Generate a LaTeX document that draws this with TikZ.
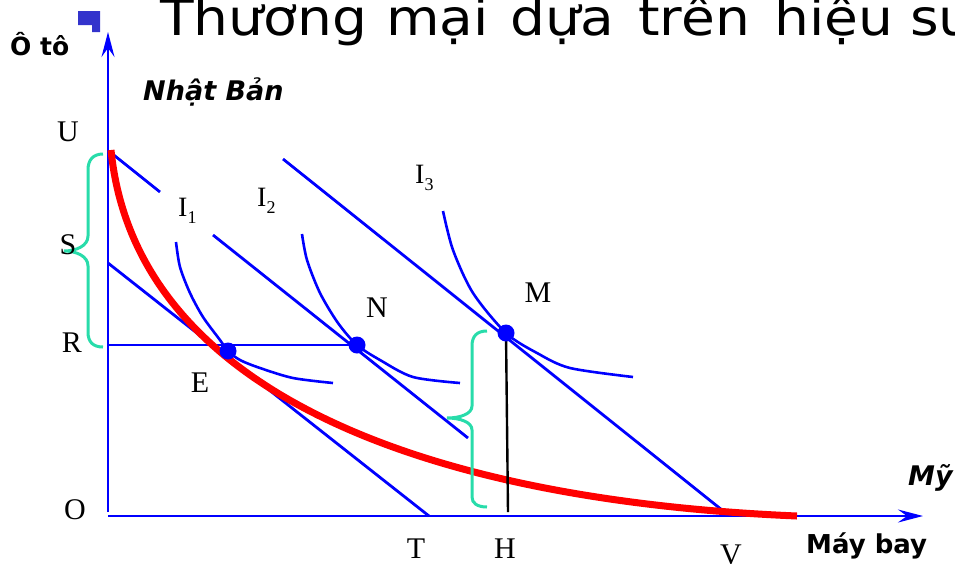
\documentclass[tikz,border=0pt]{standalone}
\usepackage{fontspec}
\setmainfont{Liberation Serif}
\newfontfamily\sansf{DejaVu Sans}
\usetikzlibrary{arrows.meta}
\definecolor{pblue}{RGB}{0,0,255}
\definecolor{pred}{RGB}{255,0,0}
\definecolor{pgreen}{RGB}{40,220,170}
\definecolor{bulletc}{RGB}{51,51,204}
\newcommand{\titleword}[1]{\scalebox{1.1}[1]{#1}}
\begin{document}
\begin{tikzpicture}[x=1pt,y=-1pt,
  axis/.style={pblue, line width=2.6pt, -{Stealth[length=25pt,width=13pt,inset=9pt]}},
  bline/.style={pblue, line width=2.8pt},
  icurve/.style={pblue, line width=2.6pt},
  ppf/.style={pred, line width=7pt},
  bracel/.style={pgreen, line width=3pt},
  ptdot/.style={circle, fill=pblue, inner sep=0pt, minimum size=17pt},
  lbl/.style={font=\fontsize{30}{30}\selectfont, inner sep=0pt},
  ilbl/.style={font=\fontsize{28}{28}\selectfont, inner sep=0pt, anchor=base west},
  tword/.style={anchor=base west, inner sep=0pt, font=\sansf\fontsize{50}{50}\selectfont},
  blbl/.style={font=\sansf\bfseries\fontsize{26}{26}\selectfont, inner sep=0pt, anchor=base west},
  bilbl/.style={font=\sansf\bfseries\itshape\fontsize{27}{27}\selectfont, inner sep=0pt, anchor=base west}]
\useasboundingbox (0,0) rectangle (955,563);
% title
\node[tword] (tw1) at (160,35) {\titleword{Thương}};
\node[tword] (tw2) at (386,35) {\titleword{mại}};
\node[tword] (tw3) at (510,35) {\titleword{dựa}};
\node[tword] (tw4) at (638,35) {\titleword{trên}};
\node[tword] (tw5) at (774,35) {\titleword{hiệu}};
\node[tword] (tw6) at (910,35) {\titleword{suất}};
\fill[bulletc] (78,11) -- (100,11) -- (100,32) -- (92,32) -- (92,25) -- (78,25) -- cycle;
% axes
\coordinate (yb) at (108,512);
\coordinate (yt) at (108,32);
\coordinate (xb) at (108,516);
\coordinate (xt) at (923,516);
\draw[axis] (yb) -- (yt);
\draw[axis] (xb) -- (xt);
% points
\coordinate (pE) at (228,351);
\coordinate (pN) at (357,345);
\coordinate (pM) at (506,333);
% budget lines
\coordinate (l1a) at (108,263);
\coordinate (l1b) at (429,516);
\draw[bline] (l1a) -- (l1b);
\coordinate (l2a) at (110,152);
\coordinate (l2b) at (160,192);
\coordinate (l2c) at (213,235);
\coordinate (l2d) at (468,438);
\draw[bline] (l2a) -- (l2b);
\draw[bline] (l2c) -- (l2d);
\coordinate (l3a) at (283,159);
\coordinate (l3b) at (727,514);
\draw[bline] (l3a) -- (l3b);
\coordinate (rl) at (108,345);
\draw[bline] (rl) -- (pN);
% indifference curves
\draw[icurve] plot[smooth] coordinates {(176,242) (180,267) (190,293) (203,317) (220,340) (228,351) (240,360) (260,368) (293,378) (333,383)};
\draw[icurve] plot[smooth] coordinates {(302,234) (307,260) (320,293) (338,323) (357,345) (380,360) (413,377) (460,383)};
\draw[icurve] plot[smooth] coordinates {(443,211) (453,250) (473,293) (506,333) (537,353) (570,368) (633,377)};
% PPF
\coordinate (ppa) at (111,150);
\coordinate (ppb) at (797,516);
\draw[ppf] (ppa) .. controls (135,390) and (420,500) .. (ppb);
% vertical at H
\coordinate (hb) at (508,512);
\draw[black, line width=2.4pt] (pM) -- (hb);
% braces
\draw[bracel] (103,154) .. controls (93,154) and (88,160) .. (88,170) -- (88,236) .. controls (88,246) and (76,251) .. (64,251) .. controls (76,251) and (88,256) .. (88,266) -- (88,332) .. controls (88,342) and (93,347) .. (103,347);
\draw[bracel] (487,331) .. controls (477,331) and (472,336) .. (472,346) -- (472,406) .. controls (472,414) and (460,418) .. (447,418) .. controls (460,418) and (472,422) .. (472,430) -- (472,497) .. controls (472,503) and (477,507) .. (487,507);
% dots
\node[ptdot] (dE) at (pE) {};
\node[ptdot] (dN) at (pN) {};
\node[ptdot] (dM) at (pM) {};
% labels
\node[lbl] (lU) at (68,132) {U};
\node[lbl] (lS) at (68,245) {S};
\node[lbl] (lR) at (72,343) {R};
\node[lbl] (lO) at (75,510) {O};
\node[lbl] (lE) at (200,383) {E};
\node[lbl] (lN) at (377,308) {N};
\node[lbl] (lM) at (538,293) {M};
\node[lbl] (lT) at (416,549) {T};
\node[lbl] (lH) at (505,549) {H};
\node[lbl] (lV) at (731,555) {V};
\node[ilbl] (lI1) at (178,216) {I\raisebox{-0.25em}{\fontsize{18}{18}\selectfont 1}};
\node[ilbl] (lI2) at (257,206) {I\raisebox{-0.25em}{\fontsize{18}{18}\selectfont 2}};
\node[ilbl] (lI3) at (415,183) {I\raisebox{-0.25em}{\fontsize{18}{18}\selectfont 3}};
\node[blbl, font=\sansf\bfseries\fontsize{25}{25}\selectfont] (loto) at (10,55) {Ô tô};
\node[bilbl] (ljp) at (143,100) {Nhật Bản};
\node[blbl] (lmb) at (806,553) {Máy bay};
\node[bilbl] (lus) at (908,485) {Mỹ};
\end{tikzpicture}
\end{document}
